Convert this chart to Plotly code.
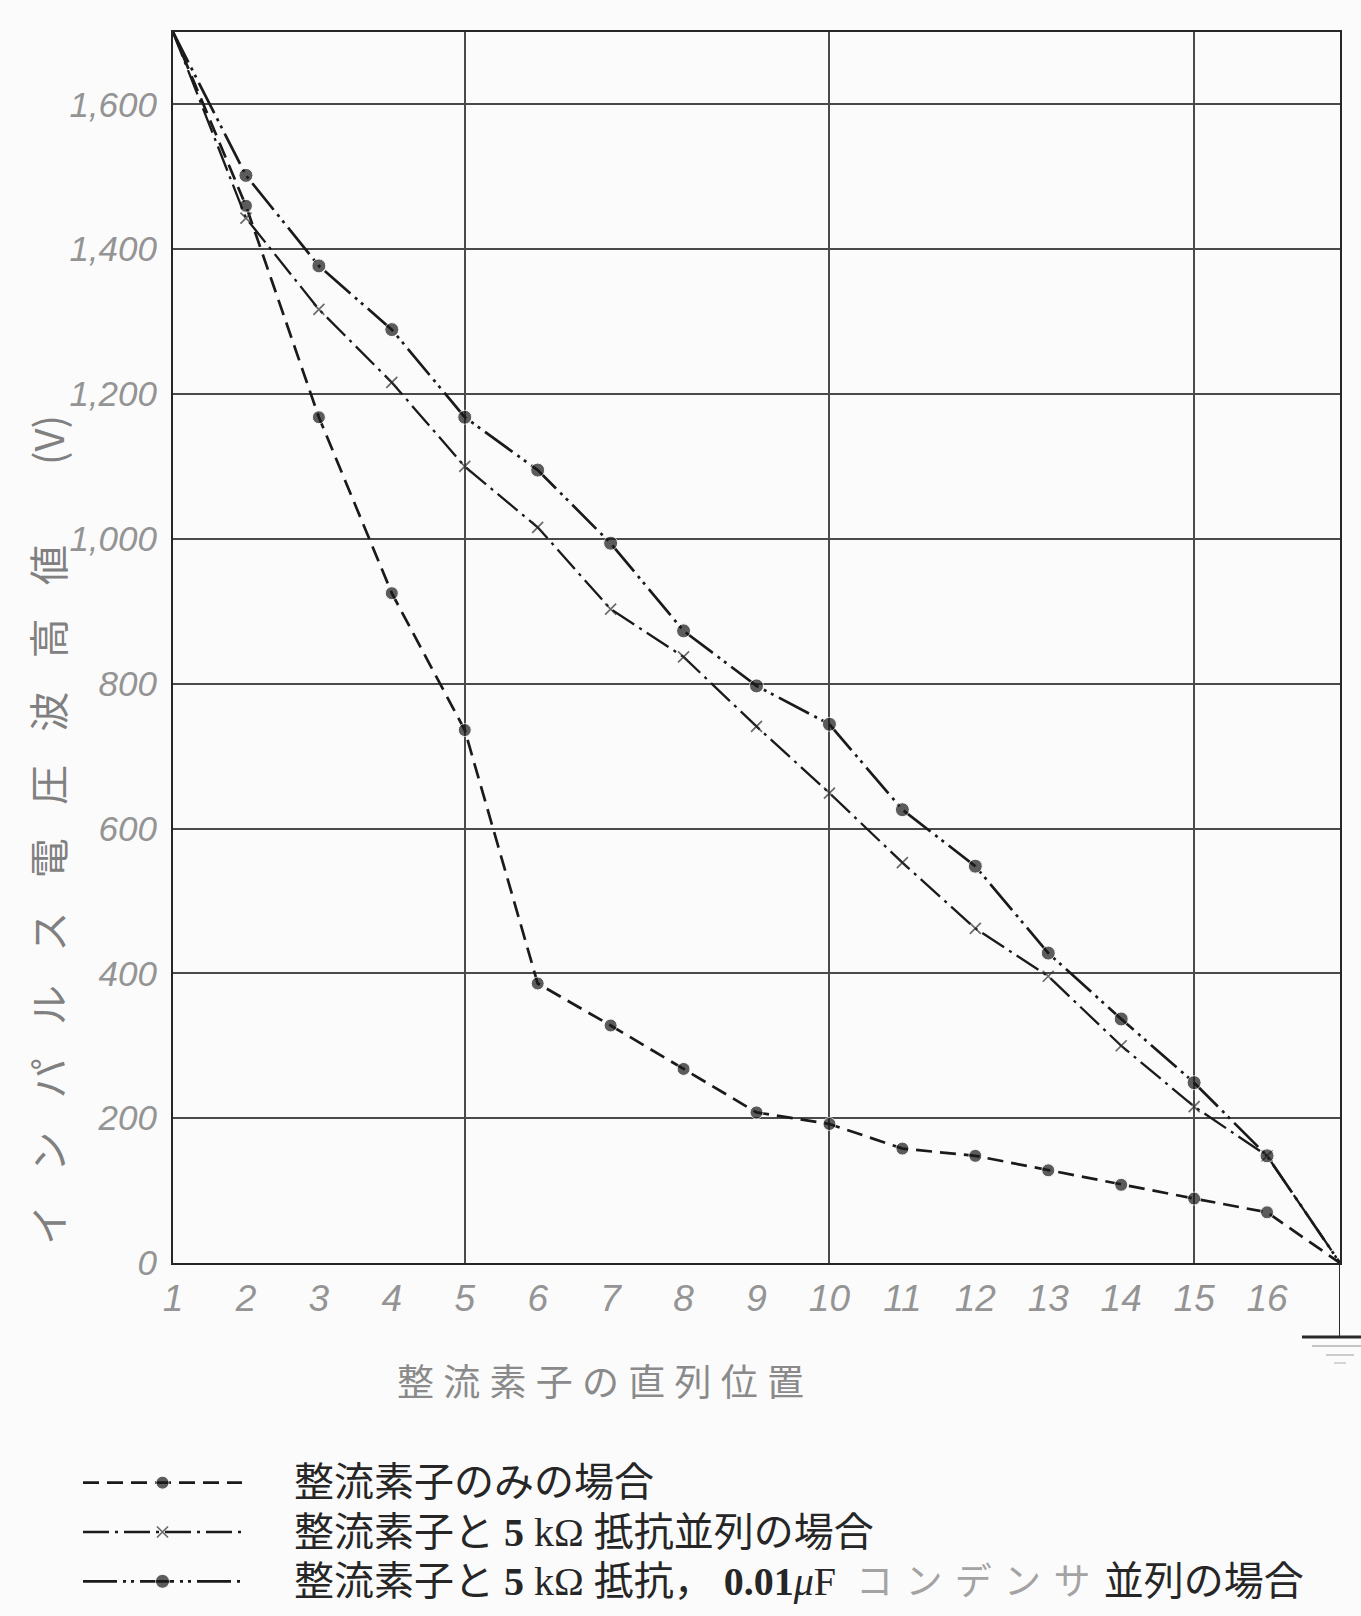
import plotly.graph_objects as go

# ---- data -------------------------------------------------------------
# series position of the rectifier element (1 = line end, 17 = grounded end)
positions = list(range(1, 18))
x_tick_vals = list(range(1, 17))
x_tick_text = [str(v) for v in x_tick_vals]

volt_tick_vals = [0, 200, 400, 600, 800, 1000, 1200, 1400, 1600]
volt_tick_text = ["0", "200", "400", "600", "800", "1,000", "1,200", "1,400", "1,600"]

# peak impulse voltage (V) across each element
v_rectifier_only = [1700, 1460, 1168, 925, 736, 386, 328, 268, 208, 192, 158, 148, 128, 108, 89, 70, 0]
v_parallel_r = [1700, 1443, 1317, 1216, 1100, 1016, 903, 837, 741, 649, 553, 462, 396, 300, 216, 148, 0]
v_parallel_rc = [1700, 1502, 1377, 1289, 1168, 1095, 994, 873, 797, 744, 626, 548, 428, 337, 249, 148, 0]

legend_rows = [0, 1, 2]
capacitor_word = "\u2004".join("コンデンサ")
legend_text = [
    "整流素子のみの場合",
    "整流素子と <b>5</b> kΩ 抵抗並列の場合",
    "整流素子と <b>5</b> kΩ 抵抗， <b>0.01</b><i>μ</i>F  "
    "<span style='color:#a3a3a3;font-size:37px'>" + capacitor_word + "</span>\u2004並列の場合",
]

y_title = "\u2002\u2004".join("インパルス電圧波高値") + "\u2003\u2003(V)"
x_title = "\u2005".join("整流素子の直列位置")

# ---- page geometry (pixels) ------------------------------------------
W, H = 1361, 1616
PL, PR, PT, PB = 173, 1340, 32, 1263


def px_x(p):
    return p / W


def px_y(p):
    return 1 - p / H


INK = "#1a1a1a"
GRID = "#4a4a4a"
LABEL_GRAY = "#949494"
TICK_FONT_Y = dict(family="Liberation Sans, Arial", size=35, color=LABEL_GRAY, style="italic")
TICK_FONT_X = dict(family="Liberation Sans, Arial", size=37, color=LABEL_GRAY, style="italic")

styles = [
    dict(y=v_rectifier_only, dash="16px,8px", width=2.7,
         marker=dict(symbol="circle", size=13, color=INK)),
    dict(y=v_parallel_r, dash="26px,6px,3px,6px", width=2.3,
         marker=dict(symbol="x-thin", size=11, line=dict(width=1.7, color="#2e2e2e"))),
    dict(y=v_parallel_rc, dash="34px,6px,3px,5px,3px,6px", width=2.7,
         marker=dict(symbol="circle", size=14, color=INK)),
]

fig = go.Figure()

n = len(positions)
for s in styles:
    mk = dict(s["marker"])
    mk["size"] = [0] + [s["marker"]["size"]] * (n - 2) + [0]
    fig.add_trace(go.Scatter(
        x=positions, y=s["y"], mode="lines+markers",
        line=dict(color=INK, width=s["width"], dash=s["dash"]),
        marker=mk, cliponaxis=False, showlegend=False, hoverinfo="skip",
    ))

# legend samples drawn on a small helper axis below the chart
for row, s in zip(legend_rows, styles):
    mk = dict(s["marker"])
    mk["size"] = [0, s["marker"]["size"], 0]
    fig.add_trace(go.Scatter(
        x=[0, 0.5, 1], y=[row] * 3, xaxis="x2", yaxis="y2",
        mode="lines+markers",
        line=dict(color=INK, width=s["width"], dash=s["dash"]),
        marker=mk, showlegend=False, hoverinfo="skip",
    ))

annotations = [
    dict(text=y_title, textangle=-90, xref="paper", yref="paper",
         x=px_x(47), y=px_y(830), xanchor="center", yanchor="middle", showarrow=False,
         font=dict(family="Noto Sans CJK JP", size=40, color="#808080")),
    dict(text=x_title, xref="paper", yref="paper",
         x=px_x(600), y=px_y(1380), xanchor="center", yanchor="middle", showarrow=False,
         font=dict(family="Noto Sans CJK JP", size=37, color="#8a8a8a")),
]
for row, txt in zip(legend_rows, legend_text):
    annotations.append(dict(
        text=txt, xref="paper", yref="y2", x=px_x(292), y=row,
        xanchor="left", yanchor="middle", showarrow=False,
        font=dict(family="Liberation Serif, Noto Sans CJK JP", size=40, color="#262626"),
    ))

# ground symbol hanging from the grounded end of the stack
shapes = [
    dict(type="line", xref="x", yref="paper", x0=17, x1=17,
         y0=px_y(PB), y1=px_y(1337), line=dict(color="#2a2a2a", width=2)),
    dict(type="line", xref="paper", yref="paper", x0=px_x(1302), x1=1.0,
         y0=px_y(1337), y1=px_y(1337), line=dict(color="#2a2a2a", width=3)),
    dict(type="line", xref="paper", yref="paper", x0=px_x(1312), x1=1.0,
         y0=px_y(1346), y1=px_y(1346), line=dict(color="#b0b0b0", width=1.5)),
    dict(type="line", xref="paper", yref="paper", x0=px_x(1326), x1=px_x(1354),
         y0=px_y(1355), y1=px_y(1355), line=dict(color="#bdbdbd", width=1.5)),
    dict(type="line", xref="paper", yref="paper", x0=px_x(1334), x1=px_x(1346),
         y0=px_y(1363), y1=px_y(1363), line=dict(color="#c8c8c8", width=1.5)),
]

fig.update_layout(
    width=W, height=H,
    margin=dict(l=0, r=0, t=0, b=0),
    paper_bgcolor="#fbfbfb", plot_bgcolor="#fbfbfb",
    showlegend=False,
    xaxis=dict(
        domain=[px_x(PL), px_x(PR)], range=[1, 17],
        tickvals=x_tick_vals, ticktext=x_tick_text, tickfont=TICK_FONT_X,
        ticks="", ticklabelstandoff=2,
        showgrid=False, zeroline=False,
        minor=dict(tickvals=[5, 10, 15], showgrid=True, gridcolor=GRID, gridwidth=1.5, ticks=""),
        showline=True, mirror=True, linecolor="#262626", linewidth=2,
        automargin=False, fixedrange=True,
    ),
    yaxis=dict(
        domain=[px_y(PB), px_y(PT)], range=[0, 1700],
        tickvals=volt_tick_vals, ticktext=volt_tick_text, tickfont=TICK_FONT_Y,
        ticks="", ticklabelstandoff=7,
        showgrid=True, gridcolor=GRID, gridwidth=1.5, zeroline=False,
        showline=True, mirror=True, linecolor="#262626", linewidth=2,
        automargin=False, fixedrange=True,
    ),
    xaxis2=dict(domain=[px_x(83), px_x(242)], range=[0, 1], anchor="y2",
                visible=False, fixedrange=True),
    yaxis2=dict(domain=[px_y(1606), px_y(1458)], range=[2.5, -0.5], anchor="x2",
                visible=False, fixedrange=True),
    annotations=annotations,
    shapes=shapes,
)

fig.write_html("out.html")
